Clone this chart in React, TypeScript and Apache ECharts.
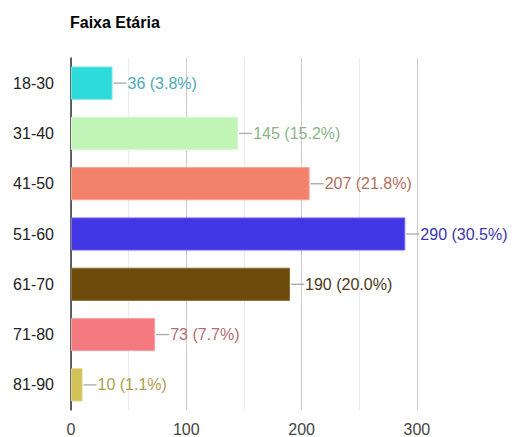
import React, { useEffect, useRef } from "react";
import * as echarts from "echarts";

const categories = ["18-30", "31-40", "41-50", "51-60", "61-70", "71-80", "81-90"];
const values = [36, 145, 207, 290, 190, 73, 10];
const percents = ["3.8", "15.2", "21.8", "30.5", "20.0", "7.7", "1.1"];
const barColors = ["#2EDBDB", "#C1F5B8", "#F2826C", "#4135E4", "#6B4A0A", "#F47A80", "#D1C156"];
const barBorders = ["#6BE6E6", "#D6F9D0", "#F6A595", "#7A70EC", "#8A6E3A", "#F7A2A6", "#DED38A"];
const labelColors = ["#4FA9B6", "#8DB38A", "#B36E60", "#3C35AE", "#4A3918", "#B56C76", "#AE9E4E"];
const tickLabels = [0, 100, 200, 300];

export default function App() {
  const ref = useRef<HTMLDivElement>(null);
  useEffect(() => {
    if (!ref.current) return;
    const chart = echarts.init(ref.current, null, { renderer: "svg" });
    const font = "Arial, 'Liberation Sans', sans-serif";
    chart.setOption({
      animation: false,
      backgroundColor: "#ffffff",
      textStyle: { fontFamily: font },
      title: {
        text: "Faixa Etária",
        left: 70,
        top: 14,
        padding: 0,
        textStyle: { fontSize: 16, fontWeight: "bold", color: "#000", fontFamily: font },
      },
      grid: { left: 71, top: 58, width: 403.5, height: 353 },
      xAxis: {
        type: "value",
        min: 0,
        max: 350,
        interval: 50,
        axisLine: { show: false },
        axisTick: { show: false },
        axisLabel: {
          fontSize: 16,
          color: "#444",
          margin: 11,
          showMaxLabel: false,
          formatter: (v: number) => (tickLabels.includes(v) ? String(v) : ""),
        },
        splitLine: {
          show: true,
          showMaxLine: false,
          lineStyle: { color: ["#cccccc", "#ebebeb"], width: 1 },
        },
      },
      yAxis: {
        type: "category",
        data: categories,
        inverse: true,
        axisLine: { show: true, lineStyle: { color: "#333", width: 1.5 } },
        axisTick: { show: false },
        axisLabel: { fontSize: 16, color: "#222", margin: 17 },
        splitLine: { show: false },
      },
      series: [
        {
          type: "bar",
          barCategoryGap: "34%",
          data: values.map((v, i) => ({
            value: v,
            itemStyle: { color: barColors[i], borderColor: barBorders[i], borderWidth: 1 },
            label: { color: labelColors[i] },
          })),
          label: {
            show: true,
            position: "right",
            distance: 15,
            fontSize: 16,
            fontFamily: font,
            formatter: (p: any) => `${p.value} (${percents[p.dataIndex]}%)`,
          },
          z: 2,
        },
        {
          type: "scatter",
          data: values.map((v, i) => [v, categories[i]]),
          symbol: "rect",
          symbolSize: [13, 1.4],
          symbolOffset: [7.5, 0],
          itemStyle: { color: "#9a9a9a" },
          silent: true,
          z: 3,
        },
      ],
    });
    return () => chart.dispose();
  }, []);
  return (
    <div
      ref={ref}
      style={{ position: "fixed", left: 0, top: 0, width: 513, height: 437, background: "#fff" }}
    />
  );
}
